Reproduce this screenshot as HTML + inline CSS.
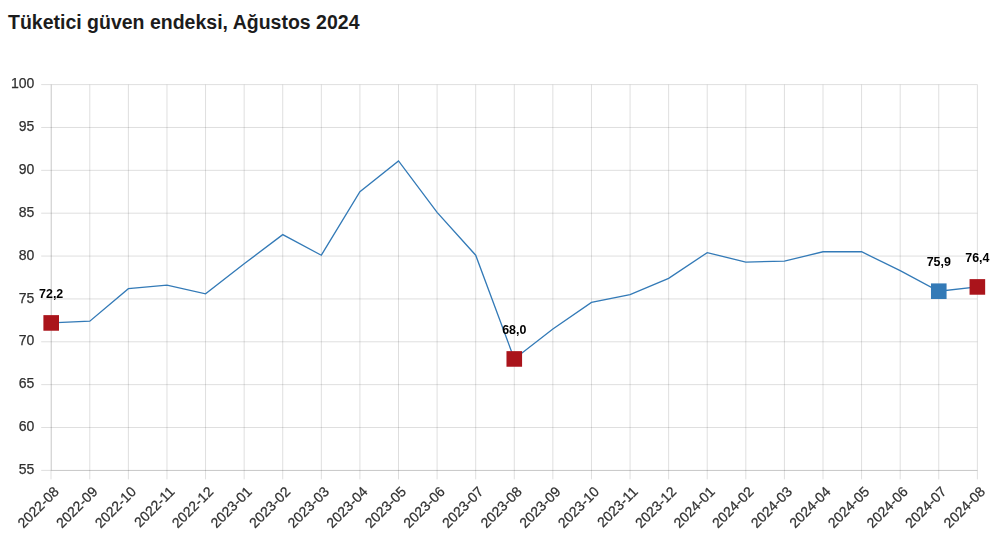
<!DOCTYPE html><html><head><meta charset="utf-8"><title>Tüketici güven endeksi</title><style>
html,body{margin:0;padding:0;background:#fff;width:998px;height:550px;overflow:hidden}
svg{display:block;position:absolute;left:0;top:0}
.c{will-change:transform}
.t{font-family:"Liberation Sans",Arial,sans-serif}
</style></head><body>
<svg class="ttl" width="998" height="50" viewBox="0 0 998 50">
<text class="t" x="8" y="29.4" font-size="20" font-weight="bold" fill="#1c1c1c" textLength="351.5" lengthAdjust="spacingAndGlyphs">Tüketici güven endeksi, Ağustos 2024</text>
</svg>
<svg class="c" width="998" height="550" viewBox="0 0 998 550">
<path d="M41.20 84.60H977.36 M41.20 127.47H977.36 M41.20 170.33H977.36 M41.20 213.19H977.36 M41.20 256.06H977.36 M41.20 298.93H977.36 M41.20 341.79H977.36 M41.20 384.65H977.36 M41.20 427.52H977.36 M41.20 470.38H977.36 M51.00 84.60V479.38 M89.79 84.60V479.38 M128.38 84.60V479.38 M166.97 84.60V479.38 M205.56 84.60V479.38 M244.15 84.60V479.38 M282.74 84.60V479.38 M321.33 84.60V479.38 M359.92 84.60V479.38 M398.51 84.60V479.38 M437.10 84.60V479.38 M475.69 84.60V479.38 M514.28 84.60V479.38 M552.87 84.60V479.38 M591.46 84.60V479.38 M630.05 84.60V479.38 M668.64 84.60V479.38 M707.23 84.60V479.38 M745.82 84.60V479.38 M784.41 84.60V479.38 M823.00 84.60V479.38 M861.59 84.60V479.38 M900.18 84.60V479.38 M938.77 84.60V479.38 M977.36 84.60V479.38" stroke="#000" stroke-opacity="0.13" stroke-width="1" fill="none"/>
<path d="M51.5 84.60V470.5M51.5 470.5H977.36" stroke="#000" stroke-opacity="0.1" stroke-width="1" fill="none"/>
<text class="t" x="34.4" y="88.20" font-size="14" fill="#303030" stroke="#303030" stroke-width="0.25" text-anchor="end">100</text>
<text class="t" x="34.4" y="131.06" font-size="14" fill="#303030" stroke="#303030" stroke-width="0.25" text-anchor="end">95</text>
<text class="t" x="34.4" y="173.93" font-size="14" fill="#303030" stroke="#303030" stroke-width="0.25" text-anchor="end">90</text>
<text class="t" x="34.4" y="216.79" font-size="14" fill="#303030" stroke="#303030" stroke-width="0.25" text-anchor="end">85</text>
<text class="t" x="34.4" y="259.66" font-size="14" fill="#303030" stroke="#303030" stroke-width="0.25" text-anchor="end">80</text>
<text class="t" x="34.4" y="302.53" font-size="14" fill="#303030" stroke="#303030" stroke-width="0.25" text-anchor="end">75</text>
<text class="t" x="34.4" y="345.39" font-size="14" fill="#303030" stroke="#303030" stroke-width="0.25" text-anchor="end">70</text>
<text class="t" x="34.4" y="388.25" font-size="14" fill="#303030" stroke="#303030" stroke-width="0.25" text-anchor="end">65</text>
<text class="t" x="34.4" y="431.12" font-size="14" fill="#303030" stroke="#303030" stroke-width="0.25" text-anchor="end">60</text>
<text class="t" x="34.4" y="473.99" font-size="14" fill="#303030" stroke="#303030" stroke-width="0.25" text-anchor="end">55</text>
<text class="t" transform="translate(59.80 492.38) rotate(-45)" font-size="14" fill="#303030" stroke="#303030" stroke-width="0.25" text-anchor="end">2022-08</text>
<text class="t" transform="translate(98.39 492.38) rotate(-45)" font-size="14" fill="#303030" stroke="#303030" stroke-width="0.25" text-anchor="end">2022-09</text>
<text class="t" transform="translate(136.98 492.38) rotate(-45)" font-size="14" fill="#303030" stroke="#303030" stroke-width="0.25" text-anchor="end">2022-10</text>
<text class="t" transform="translate(175.57 492.38) rotate(-45)" font-size="14" fill="#303030" stroke="#303030" stroke-width="0.25" text-anchor="end">2022-11</text>
<text class="t" transform="translate(214.16 492.38) rotate(-45)" font-size="14" fill="#303030" stroke="#303030" stroke-width="0.25" text-anchor="end">2022-12</text>
<text class="t" transform="translate(252.75 492.38) rotate(-45)" font-size="14" fill="#303030" stroke="#303030" stroke-width="0.25" text-anchor="end">2023-01</text>
<text class="t" transform="translate(291.34 492.38) rotate(-45)" font-size="14" fill="#303030" stroke="#303030" stroke-width="0.25" text-anchor="end">2023-02</text>
<text class="t" transform="translate(329.93 492.38) rotate(-45)" font-size="14" fill="#303030" stroke="#303030" stroke-width="0.25" text-anchor="end">2023-03</text>
<text class="t" transform="translate(368.52 492.38) rotate(-45)" font-size="14" fill="#303030" stroke="#303030" stroke-width="0.25" text-anchor="end">2023-04</text>
<text class="t" transform="translate(407.11 492.38) rotate(-45)" font-size="14" fill="#303030" stroke="#303030" stroke-width="0.25" text-anchor="end">2023-05</text>
<text class="t" transform="translate(445.70 492.38) rotate(-45)" font-size="14" fill="#303030" stroke="#303030" stroke-width="0.25" text-anchor="end">2023-06</text>
<text class="t" transform="translate(484.29 492.38) rotate(-45)" font-size="14" fill="#303030" stroke="#303030" stroke-width="0.25" text-anchor="end">2023-07</text>
<text class="t" transform="translate(522.88 492.38) rotate(-45)" font-size="14" fill="#303030" stroke="#303030" stroke-width="0.25" text-anchor="end">2023-08</text>
<text class="t" transform="translate(561.47 492.38) rotate(-45)" font-size="14" fill="#303030" stroke="#303030" stroke-width="0.25" text-anchor="end">2023-09</text>
<text class="t" transform="translate(600.06 492.38) rotate(-45)" font-size="14" fill="#303030" stroke="#303030" stroke-width="0.25" text-anchor="end">2023-10</text>
<text class="t" transform="translate(638.65 492.38) rotate(-45)" font-size="14" fill="#303030" stroke="#303030" stroke-width="0.25" text-anchor="end">2023-11</text>
<text class="t" transform="translate(677.24 492.38) rotate(-45)" font-size="14" fill="#303030" stroke="#303030" stroke-width="0.25" text-anchor="end">2023-12</text>
<text class="t" transform="translate(715.83 492.38) rotate(-45)" font-size="14" fill="#303030" stroke="#303030" stroke-width="0.25" text-anchor="end">2024-01</text>
<text class="t" transform="translate(754.42 492.38) rotate(-45)" font-size="14" fill="#303030" stroke="#303030" stroke-width="0.25" text-anchor="end">2024-02</text>
<text class="t" transform="translate(793.01 492.38) rotate(-45)" font-size="14" fill="#303030" stroke="#303030" stroke-width="0.25" text-anchor="end">2024-03</text>
<text class="t" transform="translate(831.60 492.38) rotate(-45)" font-size="14" fill="#303030" stroke="#303030" stroke-width="0.25" text-anchor="end">2024-04</text>
<text class="t" transform="translate(870.19 492.38) rotate(-45)" font-size="14" fill="#303030" stroke="#303030" stroke-width="0.25" text-anchor="end">2024-05</text>
<text class="t" transform="translate(908.78 492.38) rotate(-45)" font-size="14" fill="#303030" stroke="#303030" stroke-width="0.25" text-anchor="end">2024-06</text>
<text class="t" transform="translate(947.37 492.38) rotate(-45)" font-size="14" fill="#303030" stroke="#303030" stroke-width="0.25" text-anchor="end">2024-07</text>
<text class="t" transform="translate(985.96 492.38) rotate(-45)" font-size="14" fill="#303030" stroke="#303030" stroke-width="0.25" text-anchor="end">2024-08</text>
<polyline points="51.20,322.93 89.79,321.21 128.38,288.64 166.97,285.21 205.56,293.78 244.15,263.78 282.74,234.63 321.33,255.20 359.92,191.76 398.51,160.90 437.10,212.34 475.69,255.20 514.28,358.94 552.87,328.93 591.46,302.35 630.05,294.64 668.64,278.35 707.23,252.63 745.82,262.06 784.41,261.20 823.00,251.77 861.59,251.77 900.18,270.63 938.77,291.21 977.36,286.92" fill="none" stroke="#337ab7" stroke-width="1.3" stroke-linejoin="miter"/>
<rect x="43.40" y="315.13" width="15.6" height="15.6" fill="#aa141b"/>
<text class="t" x="51.20" y="297.83" font-size="13.5" font-weight="bold" fill="#000" text-anchor="middle" textLength="24.2" lengthAdjust="spacingAndGlyphs">72,2</text>
<rect x="506.48" y="351.14" width="15.6" height="15.6" fill="#aa141b"/>
<text class="t" x="514.28" y="333.84" font-size="13.5" font-weight="bold" fill="#000" text-anchor="middle" textLength="24.2" lengthAdjust="spacingAndGlyphs">68,0</text>
<rect x="930.97" y="283.41" width="15.6" height="15.6" fill="#337ab7"/>
<text class="t" x="938.77" y="266.11" font-size="13.5" font-weight="bold" fill="#000" text-anchor="middle" textLength="24.2" lengthAdjust="spacingAndGlyphs">75,9</text>
<rect x="969.56" y="279.12" width="15.6" height="15.6" fill="#aa141b"/>
<text class="t" x="977.36" y="261.82" font-size="13.5" font-weight="bold" fill="#000" text-anchor="middle" textLength="24.2" lengthAdjust="spacingAndGlyphs">76,4</text>
</svg></body></html>
